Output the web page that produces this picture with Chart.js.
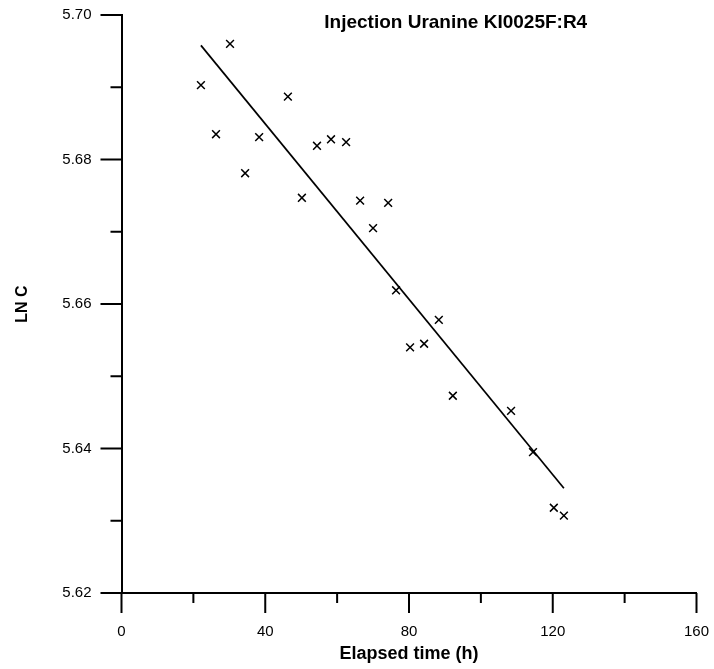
<!DOCTYPE html>
<html>
<head>
<meta charset="utf-8">
<style>
  html, body { margin: 0; padding: 0; background: #fff; }
  #wrap { width: 714px; height: 669px; }
</style>
<script src="https://cdn.jsdelivr.net/npm/chart.js@4/dist/chart.umd.min.js"></script>
</head>
<body>
<div id="wrap"><canvas id="chart" width="714" height="669"></canvas></div>
<script>
const elapsedHours = [22.1, 26.3, 30.2, 34.4, 38.3, 46.3, 50.2, 54.4, 58.3, 62.5, 66.4,
    70.0, 74.2, 76.4, 80.3, 84.2, 88.3, 92.2, 108.4, 114.5, 120.3, 123.1];
const lnC = [5.6903, 5.6835, 5.6960, 5.6781, 5.6831, 5.6887, 5.6747, 5.6819, 5.6828, 5.6824, 5.6743,
    5.6705, 5.6740, 5.6619, 5.6540, 5.6545, 5.6578, 5.6473, 5.6452, 5.6395, 5.6318, 5.6307];

// Fitted line end points
const fitHours = [22.1, 123.1];
const fitLnC = [5.6958, 5.6345];

const chartTitle = 'Injection Uranine KI0025F:R4';
const xTitle = 'Elapsed time (h)';
const yTitle = 'LN C';

const FONT = "'Liberation Sans', Arial, sans-serif";

// Outward ticks, long for labelled values, short for the ones between
const tickMarks = {
    id: 'tickMarks',
    afterDraw(chart) {
        const { ctx, chartArea, scales } = chart;
        ctx.save();
        ctx.strokeStyle = '#000';
        ctx.lineWidth = 2;
        ctx.beginPath();
        scales.x.ticks.forEach(t => {
            const px = scales.x.getPixelForValue(t.value);
            const len = Math.round(t.value) % 40 === 0 ? 20 : 10;
            ctx.moveTo(px, chartArea.bottom);
            ctx.lineTo(px, chartArea.bottom + len);
        });
        scales.y.ticks.forEach(t => {
            const py = scales.y.getPixelForValue(t.value);
            const len = Math.round(t.value * 100) % 2 === 0 ? 21 : 11;
            ctx.moveTo(chartArea.left, py);
            ctx.lineTo(chartArea.left - len, py);
        });
        ctx.stroke();

        // title sits inside the plot area, top right
        ctx.fillStyle = '#000';
        ctx.font = 'bold 19px ' + FONT;
        ctx.textAlign = 'center';
        ctx.textBaseline = 'middle';
        ctx.fillText(chartTitle, scales.x.getPixelForValue(93), chartArea.top + 8);
        ctx.restore();
    }
};

const ctx = document.getElementById('chart').getContext('2d');
new Chart(ctx, {
    type: 'scatter',
    data: {
        datasets: [
            {
                label: 'LN C',
                data: elapsedHours.map((h, i) => ({ x: h, y: lnC[i] })),
                pointStyle: 'crossRot',
                pointRadius: 5.5,
                pointBorderWidth: 1.5,
                borderColor: '#000',
                showLine: false
            },
            {
                label: 'Fit',
                data: fitHours.map((h, i) => ({ x: h, y: fitLnC[i] })),
                showLine: true,
                borderColor: '#000',
                borderWidth: 1.7,
                pointRadius: 0
            }
        ]
    },
    options: {
        responsive: false,
        animation: false,
        layout: { padding: { top: 15, right: 17.5, left: 0, bottom: 0 } },
        plugins: {
            legend: { display: false },
            tooltip: { enabled: false }
        },
        scales: {
            x: {
                type: 'linear',
                min: 0,
                max: 160,
                afterFit: s => { s.height = 76; },
                border: { display: true, color: '#000', width: 2 },
                // invisible tick marks only push the labels down
                grid: { drawOnChartArea: false, drawTicks: true, tickLength: 28, tickColor: 'rgba(0,0,0,0)' },
                ticks: {
                    stepSize: 20,
                    padding: 2,
                    color: '#000',
                    font: { family: FONT, size: 15 },
                    callback: v => (Math.round(v) % 40 === 0 ? String(v) : '')
                },
                title: {
                    display: true,
                    text: xTitle,
                    color: '#000',
                    font: { family: FONT, size: 18, weight: 'bold' },
                    padding: { top: 0, bottom: 4 }
                }
            },
            y: {
                type: 'linear',
                min: 5.62,
                max: 5.70,
                afterFit: s => { s.width = 121.5; },
                border: { display: true, color: '#000', width: 2 },
                grid: { drawOnChartArea: false, drawTicks: true, tickLength: 28, tickColor: 'rgba(0,0,0,0)' },
                ticks: {
                    stepSize: 0.01,
                    padding: 2,
                    color: '#000',
                    font: { family: FONT, size: 15 },
                    callback: v => (Math.round(v * 100) % 2 === 0 ? v.toFixed(2) : '')
                },
                title: {
                    display: true,
                    text: yTitle,
                    color: '#000',
                    font: { family: FONT, size: 16, weight: 'bold' },
                    padding: { top: 13, bottom: 0 }
                }
            }
        }
    },
    plugins: [tickMarks]
});
</script>
</body>
</html>
